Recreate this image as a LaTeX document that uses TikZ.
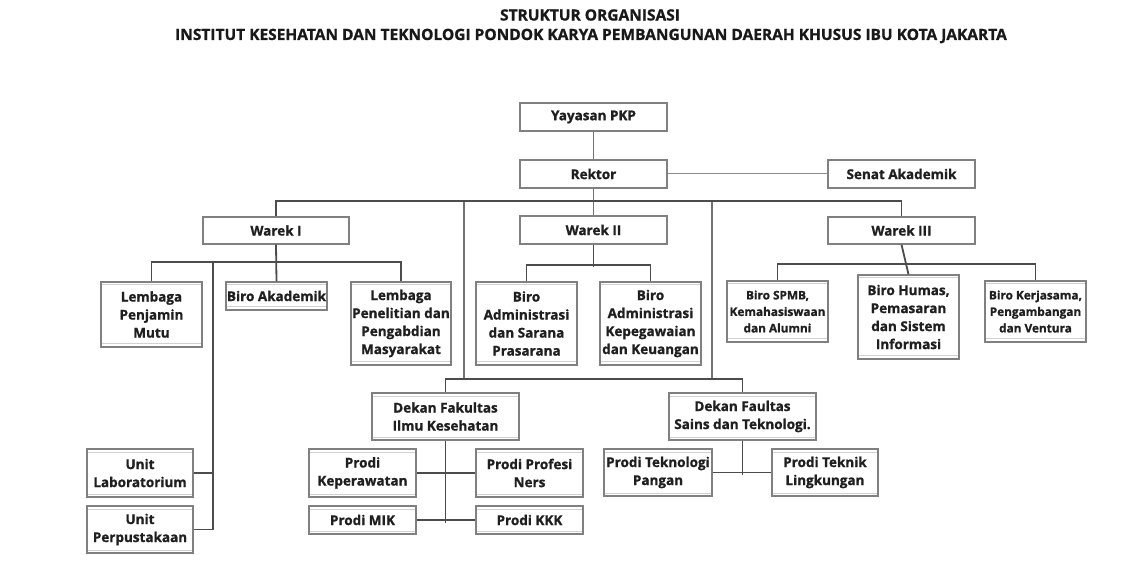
\documentclass[tikz,border=0pt]{standalone}
\usepackage{fontspec}
\setmainfont{Open Sans}[BoldFont={Open Sans Bold}, BoldFeatures={FakeBold=1}]
\begin{document}
\begin{tikzpicture}[x=1pt,y=-1pt,
  every node/.style={font=\bfseries\fontsize{13.5}{18}\selectfont, text=black!88},
  box/.style={draw=black!50, line width=1.3pt, fill=white, inner sep=0pt, align=center},
  dbox/.style={box, path picture={
     \draw[black!18, line width=1pt] ([yshift=-3pt]path picture bounding box.north west) -- ([yshift=-3pt]path picture bounding box.north east);
     \draw[black!18, line width=1pt] ([yshift=3pt]path picture bounding box.south west) -- ([yshift=3pt]path picture bounding box.south east);}},
  small/.style={font=\bfseries\fontsize{11.8}{16.5}\selectfont},
  conn/.style={draw=black!70, line width=1.8pt},
  thin/.style={draw=black!55, line width=1.3pt},
  title/.style={font=\bfseries\fontsize{15.5}{18}\selectfont, text=black!90}
]
\useasboundingbox (0,0) rectangle (1141,561);
\newcommand\bx[7][box]{\node[#1, minimum width={(#4-#2)*1pt}, minimum height={(#5-#3)*1pt}] (#7) at ({(#2+#4)/2},{(#3+#5)/2}) {#6};}

\node[title] (t1) at (590,15) {STRUKTUR ORGANISASI};
\node[title] (t2) at (591,36) {INSTITUT KESEHATAN DAN TEKNOLOGI PONDOK KARYA PEMBANGUNAN DAERAH KHUSUS IBU KOTA JAKARTA};

\coordinate (v1t) at (464,202);
\coordinate (v1b) at (464,380);
\coordinate (v2t) at (712,202);
\coordinate (v2b) at (712,380);
\coordinate (u1) at (213,263);

\bx{520}{103}{667}{131}{Yayasan PKP}{yay}
\bx{520}{160}{667}{188}{Rektor}{rek}
\bx{828}{160}{975}{188}{Senat Akademik}{sen}
\bx{203}{217}{349}{244}{Warek I}{w1}
\bx{520}{216}{667}{244}{Warek II}{w2}
\bx{828}{217}{975}{244}{Warek III}{w3}

\bx[dbox]{101}{282}{202}{347}{Lembaga\\Penjamin\\Mutu}{lpm}
\bx[dbox]{226}{282}{327}{310}{Biro Akademik}{bak}
\bx[dbox]{351}{282}{451}{365}{Lembaga\\Penelitian dan\\Pengabdian\\Masyarakat}{lppm}
\bx[dbox]{476}{282}{577}{365}{Biro\\Administrasi\\dan Sarana\\Prasarana}{bsp}
\bx[dbox]{600}{282}{701}{365}{Biro\\Administrasi\\Kepegawaian\\dan Keuangan}{bkk}
\bx[dbox,small]{727}{281}{828}{342}{Biro SPMB,\\Kemahasiswaan\\dan Alumni}{spmb}
\bx[dbox]{858}{275}{959}{359}{Biro Humas,\\Pemasaran\\dan Sistem\\Informasi}{hum}
\bx[dbox,small]{985}{281}{1086}{342}{Biro Kerjasama,\\Pengambangan\\dan Ventura}{ker}

\bx[dbox]{87}{449}{193}{497}{Unit\\Laboratorium}{lab}
\bx[dbox]{87}{506}{193}{553}{Unit\\Perpustakaan}{pus}

\bx[dbox]{372}{393}{519}{440}{Dekan Fakultas\\Ilmu Kesehatan}{fik}
\bx[dbox]{309}{449}{416}{497}{Prodi\\Keperawatan}{kep}
\bx[dbox]{476}{449}{583}{497}{Prodi Profesi\\Ners}{ners}
\bx[dbox]{309}{506}{416}{534}{Prodi MIK}{mik}
\bx[dbox]{476}{506}{583}{534}{Prodi KKK}{kkk}

\bx[dbox]{669}{393}{816}{440}{Dekan Faultas\\Sains dan Teknologi.}{fst}
\bx[dbox]{604}{449}{712}{496}{Prodi Teknologi\\Pangan}{tp}
\bx[dbox]{772}{449}{878}{496}{Prodi Teknik\\Lingkungan}{tl}

\draw[thin] (yay.south) -- (rek.north);
\draw[draw=black!45, line width=1pt] (rek.east) -- (sen.west);
\draw[thin] (rek.south) -- (w2.north);
\draw[conn] (w1.north) -- ++(0,-15) -| (w3.north);
\draw[thin] (v1t) -- (v1b);
\draw[thin] (v2t) -- (v2b);
\draw[conn] (fik.north) -- ++(0,-13) -| (fst.north);

\draw[conn] (w1.south) -- (bak.north);
\draw[conn] (lpm.north) -- ++(0,-19) -| (lppm.north);
\draw[conn] (u1) |- (pus.east);
\draw[conn] (lab.east) -- (lab.east -| u1);

\draw[conn] (w2.south) -- ++(0,22) coordinate (w2b);
\draw[conn] (bsp.north) -- ++(0,-16) -| (bkk.north);

\draw[conn] (w3.south) -- (hum.north);
\draw[conn] (spmb.north) -- ++(0,-16) -| (ker.north);

\draw[conn] (fik.south) -- ++(0,82) coordinate (fikb);
\draw[conn] (kep.east) -- (ners.west);
\draw[conn] (mik.east) -- (kkk.west);

\draw[conn] (fst.south) -- ++(0,34) coordinate (fstb);
\draw[conn] (tp.east) -- (tl.west);
\end{tikzpicture}
\end{document}
